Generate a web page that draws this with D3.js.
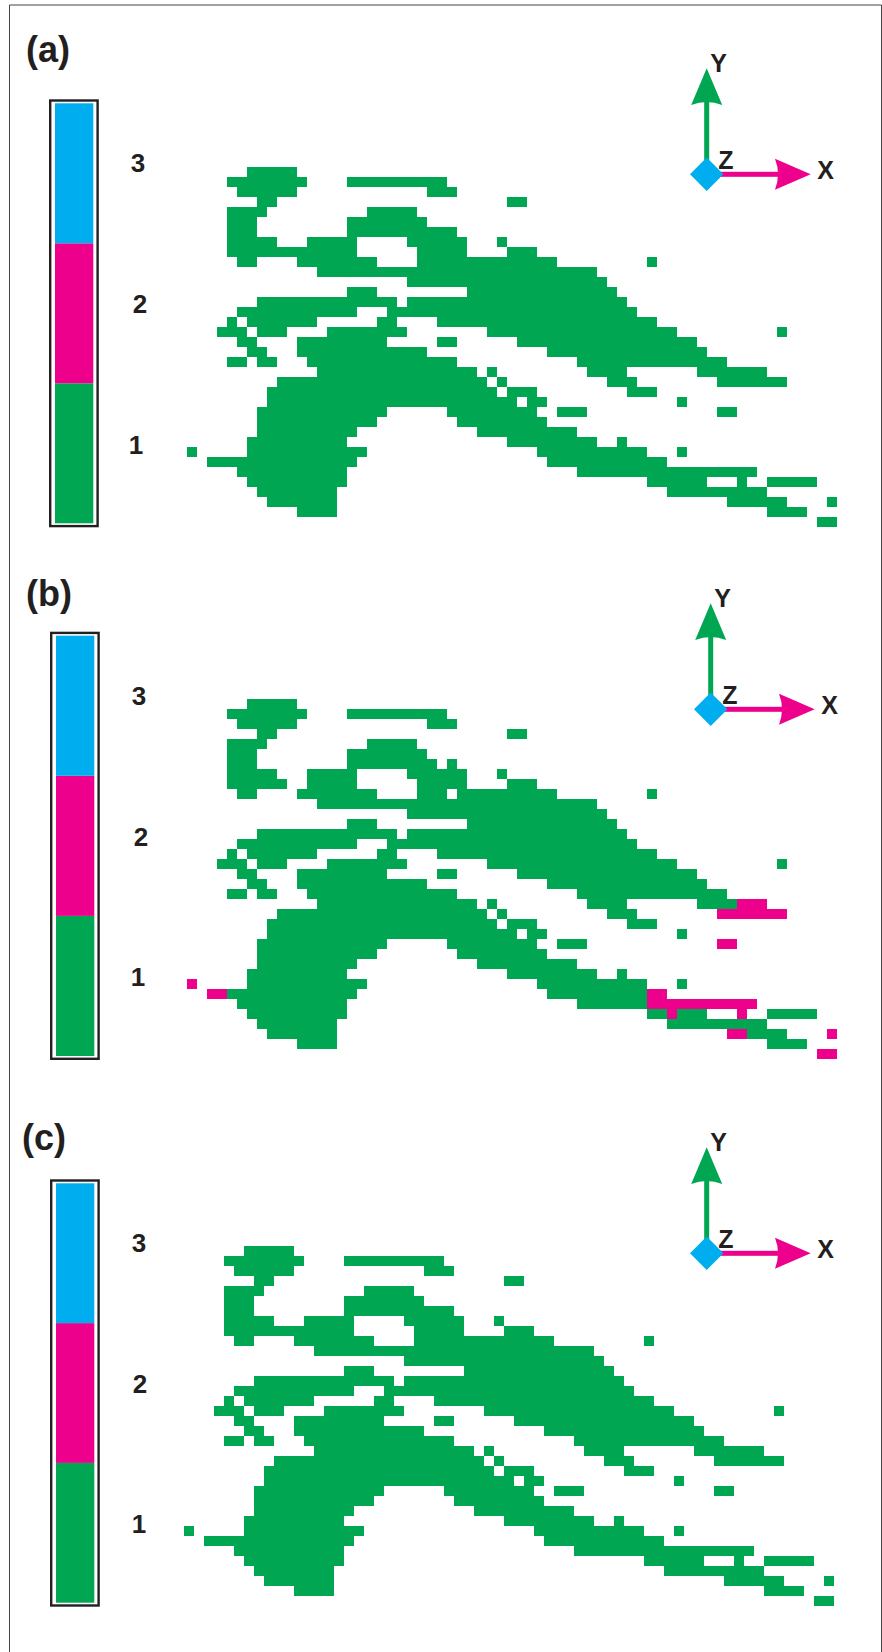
<!DOCTYPE html>
<html>
<head>
<meta charset="utf-8">
<script src="https://cdn.jsdelivr.net/npm/d3@7"></script>
<style>
  html, body { margin: 0; padding: 0; background: #fff; }
  svg { display: block; }
  text { font-family: "Liberation Sans", Arial, sans-serif; font-weight: bold; fill: #231f20; }
</style>
</head>
<body>
<svg id="chart" width="882" height="1652"></svg>
<script>
// Class labels of the colour bar, bottom to top
const classLabels = ["1", "2", "3"];
const classColors = ["#00a651", "#ec008c", "#00aeef"];

// Green runs per row: [firstCol, endCol) pairs, row 0 is the top one
const greenRuns = [
  [6, 11],
  [4, 12, 16, 26],
  [5, 11, 24, 27],
  [7, 9, 32, 34],
  [4, 8, 18, 23],
  [4, 7, 16, 24],
  [4, 7, 16, 27],
  [4, 9, 12, 17, 22, 28, 31, 32],
  [4, 17, 23, 28, 32, 35],
  [5, 7, 11, 19, 23, 37, 46, 47],
  [13, 41],
  [22, 42],
  [16, 19, 28, 43],
  [7, 21, 22, 44],
  [5, 17, 20, 45],
  [4, 5, 6, 13, 19, 21, 25, 47],
  [3, 6, 7, 10, 14, 22, 30, 49, 59, 60],
  [5, 7, 11, 20, 25, 27, 33, 51],
  [6, 8, 11, 24, 36, 52],
  [4, 6, 7, 9, 12, 27, 39, 54],
  [13, 29, 30, 31, 40, 44, 51, 58],
  [9, 30, 31, 32, 42, 45, 53, 60],
  [8, 31, 32, 35, 44, 47],
  [8, 33, 34, 36, 49, 50],
  [7, 20, 26, 35, 37, 40, 53, 55],
  [7, 19, 27, 36],
  [7, 17, 29, 39],
  [6, 16, 32, 41, 43, 44],
  [0, 1, 6, 18, 35, 46, 49, 50],
  [2, 17, 36, 48],
  [5, 16, 39, 57],
  [6, 16, 46, 52, 55, 56, 58, 63],
  [7, 15, 48, 58],
  [8, 15, 54, 60, 64, 65],
  [11, 15, 58, 62],
  [63, 65]
];

// Panel (b) only: cells that are white there, [row, firstCol, endCol)
const panelBGaps = [
  [6, 25, 26],
  [8, 10, 12],
  [9, 26, 27]
];

// Panel (b) only: cells that turned to class 2, [row, firstCol, endCol)
const panelBPink = [
  [20, 55, 58],
  [21, 53, 60],
  [24, 53, 55],
  [28, 0, 1],
  [29, 2, 4],
  [29, 46, 48],
  [30, 46, 57],
  [31, 48, 49],
  [31, 55, 56],
  [33, 54, 56],
  [33, 64, 65],
  [35, 63, 65]
];

const panelNames = ["(a)", "(b)", "(c)"];
const nCols = 65;
const nRows = 36;

// Layout of the three panels
const panels = [
  { name: panelNames[0], nameX: 26, nameY: 61.5, gridDx: 0, gridDy: 0, barX: 49, barTop: 99.3, barBottom: 527.3,
    digits: [[136, 444.6], [140, 303.5], [138, 162]], axisDx: 0, axisDy: 0, gaps: [], pink: [] },
  { name: panelNames[1], nameX: 26, nameY: 606, gridDx: 0.5, gridDy: 532, barX: 50, barTop: 631.7, barBottom: 1060,
    digits: [[138, 976.7], [141, 836.5], [139, 695]], axisDx: 4, axisDy: 535, gaps: panelBGaps, pink: panelBPink },
  { name: panelNames[2], nameX: 22, nameY: 1150, gridDx: -2.4, gridDy: 1079.5, barX: 50, barTop: 1179.3, barBottom: 1606.7,
    digits: [[139, 1523], [140, 1383], [139, 1242]], axisDx: 0, axisDy: 1079, gaps: [], pink: [] }
];

const svg = d3.select("#chart");

// Frame round the figure, the bottom edge is cut off
svg.append("path")
  .attr("d", "M9.5,1652V5H881.5V1652")
  .attr("fill", "none")
  .attr("stroke", "#444")
  .attr("stroke-width", 1);

// Turn runs into one class value per cell, then merge neighbours again
function buildCells(panel) {
  const cells = d3.range(nRows).map(() => new Array(nCols).fill(0));
  greenRuns.forEach((runs, r) => {
    for (let i = 0; i < runs.length; i += 2) {
      for (let c = runs[i]; c < runs[i + 1]; c++) cells[r][c] = 1;
    }
  });
  panel.gaps.forEach(([r, a, b]) => { for (let c = a; c < b; c++) cells[r][c] = 0; });
  panel.pink.forEach(([r, a, b]) => { for (let c = a; c < b; c++) cells[r][c] = 2; });

  const merged = [];
  cells.forEach((row, r) => {
    let c = 0;
    while (c < nCols) {
      let end = c + 1;
      while (end < nCols && row[end] === row[c]) end++;
      if (row[c] > 0) merged.push({ row: r, col: c, end: end, cls: row[c] });
      c = end;
    }
  });
  return merged;
}

function drawPanel(panel) {
  const g = svg.append("g");

  // Panel letter
  g.append("text")
    .attr("x", panel.nameX)
    .attr("y", panel.nameY)
    .attr("font-size", 36)
    .text(panel.name);

  // Colour bar
  const bar = d3.scaleLinear()
    .domain([0, classLabels.length])
    .range([panel.barBottom - 4, panel.barTop + 4]);

  g.append("rect")
    .attr("x", panel.barX + 1.2)
    .attr("y", panel.barTop + 1.2)
    .attr("width", 47.4)
    .attr("height", panel.barBottom - panel.barTop - 2.4)
    .attr("fill", "#fff")
    .attr("stroke", "#231f20")
    .attr("stroke-width", 2.4);

  g.selectAll(".bar-part")
    .data(classLabels)
    .enter()
    .append("rect")
    .attr("class", "bar-part")
    .attr("x", panel.barX + 6)
    .attr("y", (d, i) => bar(i + 1))
    .attr("width", 38.3)
    .attr("height", (d, i) => bar(i) - bar(i + 1))
    .attr("fill", (d, i) => classColors[i]);

  g.selectAll(".digit")
    .data(classLabels)
    .enter()
    .append("text")
    .attr("class", "digit")
    .attr("x", (d, i) => panel.digits[i][0])
    .attr("y", (d, i) => panel.digits[i][1] + 9.5)
    .attr("text-anchor", "middle")
    .attr("font-size", 26)
    .text(d => d);

  // Classified cells, rounded to whole pixels so neighbouring rows leave no seam
  const x = d3.scaleLinear().domain([0, nCols]).range([186.7 + panel.gridDx, 836.7 + panel.gridDx])
    .interpolate(d3.interpolateRound);
  const y = d3.scaleLinear().domain([0, nRows]).range([166.7 + panel.gridDy, 526.7 + panel.gridDy])
    .interpolate(d3.interpolateRound);

  g.selectAll(".cell")
    .data(buildCells(panel))
    .enter()
    .append("rect")
    .attr("class", "cell")
    .attr("x", d => x(d.col))
    .attr("y", d => y(d.row))
    .attr("width", d => x(d.end) - x(d.col))
    .attr("height", d => y(d.row + 1) - y(d.row))
    .attr("fill", d => classColors[d.cls - 1]);

  // Axis triad
  const axes = g.append("g")
    .attr("transform", `translate(${panel.axisDx},${panel.axisDy})`);

  axes.append("rect")
    .attr("x", 704.2).attr("y", 100).attr("width", 5).attr("height", 60)
    .attr("fill", classColors[0]);
  axes.append("path")
    .attr("d", "M706.7,68.3L722.2,105Q706.7,99 691.2,105Z")
    .attr("fill", classColors[0]);
  axes.append("rect")
    .attr("x", 720).attr("y", 171.8).attr("width", 60).attr("height", 5)
    .attr("fill", classColors[1]);
  axes.append("path")
    .attr("d", "M810.7,174.3L775,189.8Q781,174.3 775,158.8Z")
    .attr("fill", classColors[1]);
  axes.append("path")
    .attr("d", "M706.7,157.6L723.4,174.3L706.7,191L690,174.3Z")
    .attr("fill", classColors[2]);

  const axisLabels = [["Y", 718.5, 72], ["Z", 726, 169.3], ["X", 825.5, 179]];
  axes.selectAll(".axis-label")
    .data(axisLabels)
    .enter()
    .append("text")
    .attr("class", "axis-label")
    .attr("x", d => d[1])
    .attr("y", d => d[2])
    .attr("text-anchor", "middle")
    .attr("font-size", 25)
    .text(d => d[0]);
}

panels.forEach(drawPanel);
</script>
</body>
</html>
